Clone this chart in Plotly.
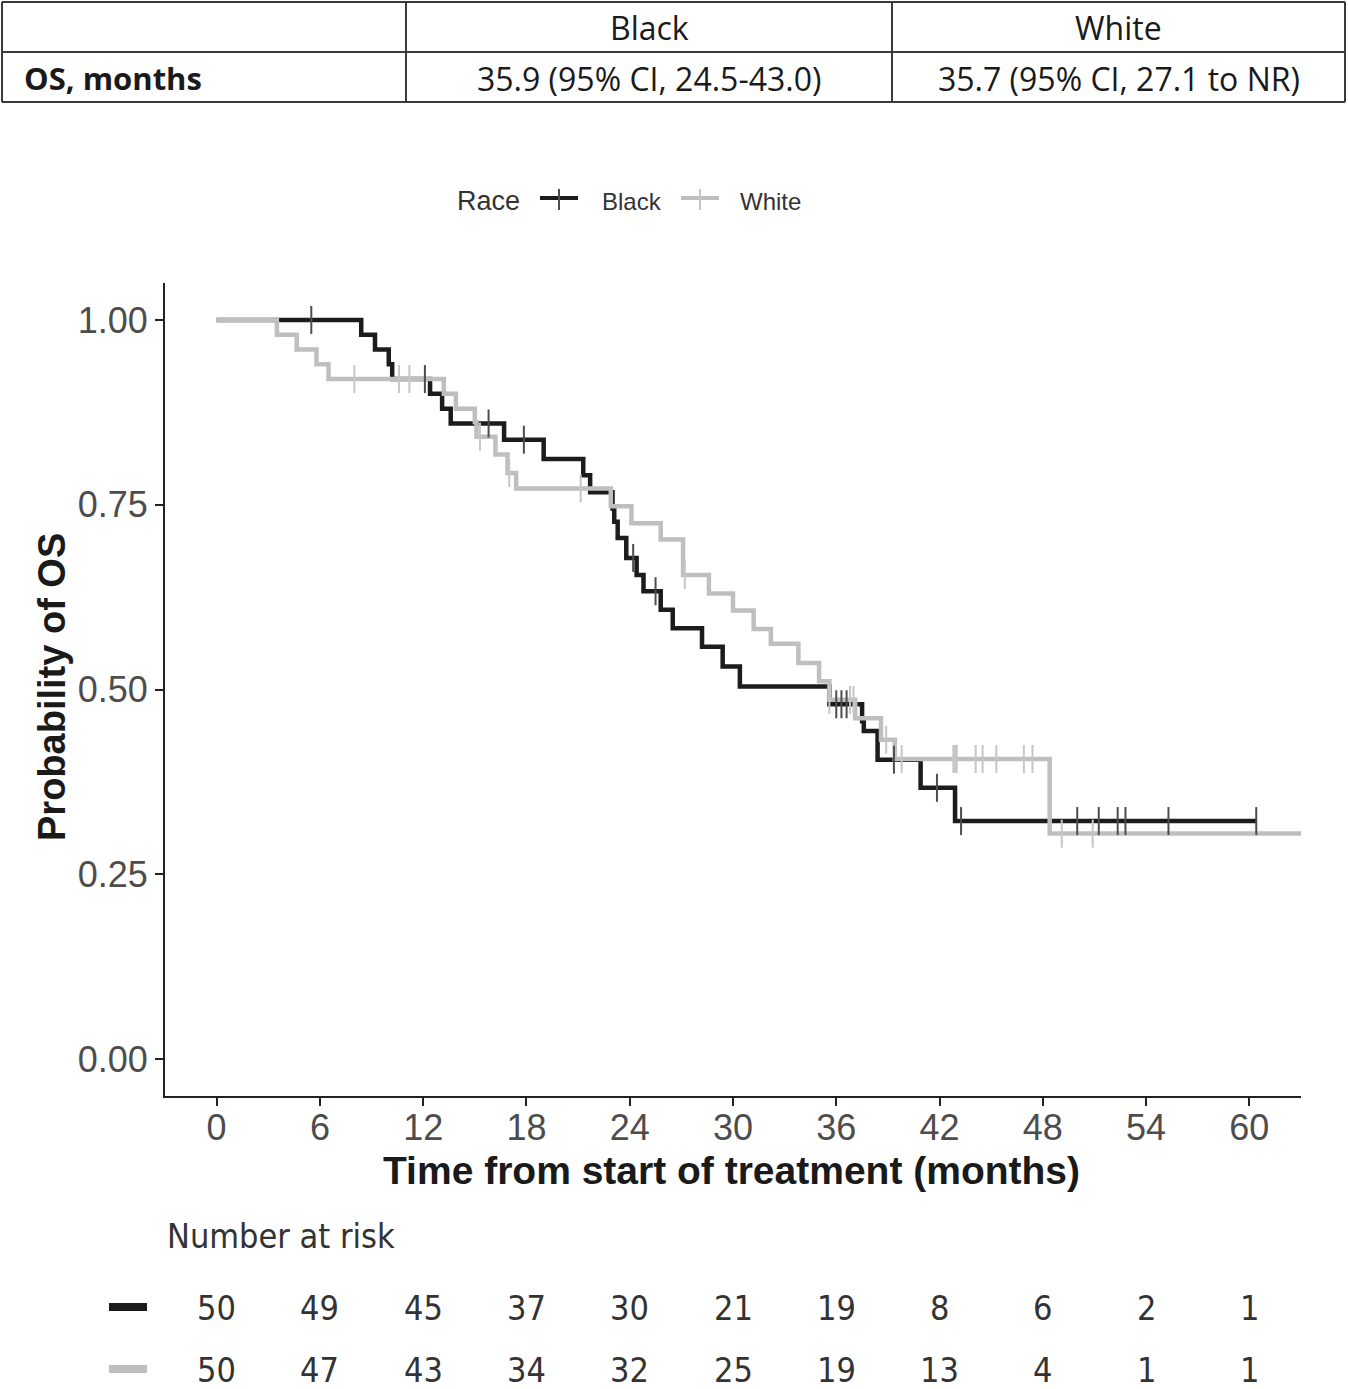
import plotly.graph_objects as go

# ---------------- data ----------------
black_t = [0, 8.4, 9.2, 10.0, 10.2, 12.4, 13.1, 13.6, 16.7, 19.0, 21.3, 21.7, 23.0, 23.1, 23.3,
           23.8, 24.4, 24.8, 25.8, 26.5, 28.2, 29.4, 30.4, 35.6, 37.5, 37.6, 38.4, 40.9, 42.9, 60.4]
black_s = [1.0, 0.98, 0.96, 0.94, 0.92, 0.90, 0.88, 0.86, 0.838, 0.812, 0.79, 0.767, 0.745, 0.727, 0.705,
           0.678, 0.655, 0.633, 0.608, 0.583, 0.558, 0.531, 0.504, 0.48, 0.457, 0.444, 0.405, 0.367, 0.322, 0.322]
white_t = [0, 3.5, 4.65, 5.8, 6.5, 13.2, 13.9, 15.0, 15.1, 16.2, 16.9, 17.4, 22.9, 24.1, 25.8,
           27.1, 28.6, 30.0, 31.2, 32.2, 33.8, 35.0, 35.6, 37.1, 38.6, 39.4, 48.4, 63.0]
white_s = [1.0, 0.98, 0.96, 0.94, 0.92, 0.90, 0.88, 0.862, 0.842, 0.818, 0.793, 0.772, 0.748, 0.725, 0.703,
           0.655, 0.630, 0.607, 0.582, 0.562, 0.536, 0.511, 0.486, 0.461, 0.432, 0.406, 0.305, 0.305]
black_cens = [5.5, 12.1, 15.8, 17.85, 24.2, 25.5, 36.0, 36.3, 36.6, 39.35, 41.85, 43.25,
              50.0, 51.25, 52.35, 52.8, 55.3, 60.4]
white_cens = [8.0, 10.6, 11.2, 15.3, 17.0, 21.15, 27.2, 35.6, 36.8, 37.0, 38.9, 39.8, 42.8, 42.9,
              43.0, 44.1, 44.5, 45.3, 46.9, 47.4, 49.1, 50.9]

risk_times = [0, 6, 12, 18, 24, 30, 36, 42, 48, 54, 60]
risk_black = [50, 49, 45, 37, 30, 21, 19, 8, 6, 2, 1]
risk_white = [50, 47, 43, 34, 32, 25, 19, 13, 4, 1, 1]

y_ticks = [0, 0.25, 0.5, 0.75, 1.0]

table_header = ["", "Black", "White"]
table_row = ["OS, months", "35.9 (95% CI, 24.5-43.0)", "35.7 (95% CI, 27.1 to NR)"]
groups = ["Black", "White"]

# ---------------- styling ----------------
BLACK = "#1c1c1c"
GRAY = "#bfbfbf"
BLACK_TICK = "#4d4d4d"
GRAY_TICK = "#c6c6c6"
W, H = 1348, 1389
L, R, T, B = 165, 1301, 283, 1096


def px(x):
    return (x - L) / (R - L)


def py(y):
    return (B - y) / (B - T)


def surv_at(ts, ss, t):
    v = ss[0]
    for ti, si in zip(ts, ss):
        if ti <= t:
            v = si
    return v


fig = go.Figure()
fig.add_trace(go.Scatter(x=black_t, y=black_s, mode="lines", line=dict(shape="hv", color=BLACK, width=4.5),
                         showlegend=False, hoverinfo="skip"))
fig.add_trace(go.Scatter(x=white_t, y=white_s, mode="lines", line=dict(shape="hv", color=GRAY, width=4.5),
                         showlegend=False, hoverinfo="skip"))
fig.add_trace(go.Scatter(x=black_cens, y=[surv_at(black_t, black_s, t) for t in black_cens], mode="markers",
                         marker=dict(symbol="line-ns", size=20, line=dict(color=BLACK_TICK, width=2)),
                         showlegend=False, hoverinfo="skip"))
fig.add_trace(go.Scatter(x=white_cens, y=[surv_at(white_t, white_s, t) for t in white_cens], mode="markers",
                         marker=dict(symbol="line-ns", size=20, line=dict(color=GRAY_TICK, width=2)),
                         showlegend=False, hoverinfo="skip"))

AX_FONT = dict(family="Liberation Sans, Arial, sans-serif", size=36, color="#4d4d4d")
fig.update_xaxes(range=[-3, 63], tickvals=risk_times, ticktext=[str(v) for v in risk_times],
                 showgrid=False, zeroline=False, showline=True, linecolor="#222222", linewidth=2,
                 ticks="outside", ticklen=8, tickwidth=2, tickcolor="#222222", tickfont=AX_FONT,
                 ticklabelstandoff=-9)
fig.update_yaxes(range=[-0.05, 1.05], tickvals=y_ticks, ticktext=[f"{v:.2f}" for v in y_ticks],
                 showgrid=False, zeroline=False, showline=True, linecolor="#222222", linewidth=2,
                 ticks="outside", ticklen=8, tickwidth=2, tickcolor="#222222", tickfont=AX_FONT)

shapes = []
ann = []

# ---- top table ----
TBL = "#3a3a3a"
col_x = [2, 406, 892, 1345]
row_y = [2, 52, 102]
for yy in row_y:
    shapes.append(dict(type="line", xref="paper", yref="paper", x0=px(col_x[0]), x1=px(col_x[-1]),
                       y0=py(yy), y1=py(yy), line=dict(color=TBL, width=2)))
for xx in col_x:
    shapes.append(dict(type="line", xref="paper", yref="paper", x0=px(xx), x1=px(xx),
                       y0=py(row_y[0]), y1=py(row_y[-1]), line=dict(color=TBL, width=2)))
TFONT = "Open Sans, Noto Sans, sans-serif"
for i in (1, 2):
    cx = (col_x[i] + col_x[i + 1]) / 2
    ann.append(dict(text=table_header[i], x=px(cx), y=py(27), xref="paper", yref="paper",
                    xanchor="center", yanchor="middle", showarrow=False,
                    font=dict(family=TFONT, size=32, color="#1a1a1a")))
    ann.append(dict(text=table_row[i], x=px(cx), y=py(78), xref="paper", yref="paper",
                    xanchor="center", yanchor="middle", showarrow=False,
                    font=dict(family=TFONT, size=32, color="#1a1a1a")))
ann.append(dict(text="<b>" + table_row[0] + "</b>", x=px(22), y=py(78), xref="paper", yref="paper",
                xanchor="left", yanchor="middle", showarrow=False,
                font=dict(family=TFONT, size=31, color="#1a1a1a")))

# ---- legend (manual) ----
LFONT = "Liberation Sans, Arial, sans-serif"
ann.append(dict(text="Race", x=px(455), y=py(201), xref="paper", yref="paper", xanchor="left",
                yanchor="middle", showarrow=False, font=dict(family=LFONT, size=27, color="#333333")))
leg = [(540, 578, BLACK, BLACK_TICK, 600), (681, 719, GRAY, GRAY_TICK, 738)]
for (x0, x1, lc, tc, tx), name in zip(leg, groups):
    shapes.append(dict(type="line", xref="paper", yref="paper", x0=px(x0), x1=px(x1), y0=py(198), y1=py(198),
                       line=dict(color=lc, width=4)))
    shapes.append(dict(type="line", xref="paper", yref="paper", x0=px((x0 + x1) / 2), x1=px((x0 + x1) / 2),
                       y0=py(189), y1=py(210), line=dict(color=tc, width=2)))
    ann.append(dict(text=name, x=px(tx), y=py(201), xref="paper", yref="paper", xanchor="left",
                    yanchor="middle", showarrow=False, font=dict(family=LFONT, size=24, color="#333333")))

# ---- axis titles ----
ann.append(dict(text="<b>Time from start of treatment (months)</b>", x=px(731), y=py(1170), xref="paper",
                yref="paper", xanchor="center", yanchor="middle", showarrow=False,
                font=dict(family=LFONT, size=39, color="#1a1a1a")))
ann.append(dict(text="<b>Probability of OS</b>", x=px(52), y=py(687), xref="paper", yref="paper",
                xanchor="center", yanchor="middle", showarrow=False, textangle=-90,
                font=dict(family=LFONT, size=38, color="#1a1a1a")))

# ---- risk table ----
RFONT = "Liberation Sans Narrow, Arial Narrow, DejaVu Sans Condensed, sans-serif"
ann.append(dict(text="Number at risk", x=px(165), y=py(1236), xref="paper", yref="paper", xanchor="left",
                yanchor="middle", showarrow=False, font=dict(family=RFONT, size=34, color="#333333")))
for vals, ry, col in ((risk_black, 1308, BLACK), (risk_white, 1370, GRAY)):
    shapes.append(dict(type="line", xref="paper", yref="paper", x0=px(109), x1=px(147), y0=py(ry - 1),
                       y1=py(ry - 1), line=dict(color=col, width=8)))
    for t, v in zip(risk_times, vals):
        ann.append(dict(text=str(v), x=t, y=py(ry), xref="x", yref="paper", xanchor="center",
                        yanchor="middle", showarrow=False, font=dict(family=RFONT, size=34, color="#333333")))

fig.update_layout(width=W, height=H, margin=dict(l=L, r=W - R, t=T, b=H - B),
                  plot_bgcolor="white", paper_bgcolor="white", shapes=shapes, annotations=ann,
                  showlegend=False)
fig.write_html("out.html", config={"displayModeBar": False},
               post_script="document.body.style.margin='0px';document.body.style.overflow='hidden';")
